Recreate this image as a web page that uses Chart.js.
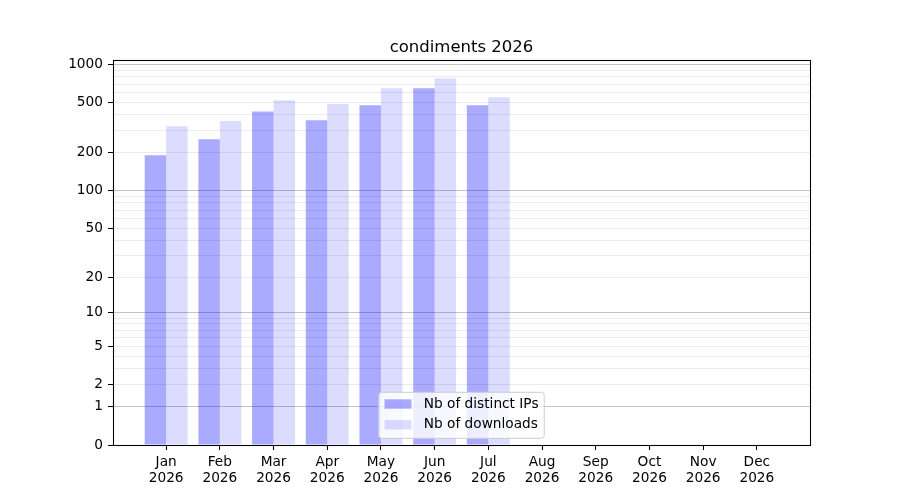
<!DOCTYPE html>
<html>
<head>
<meta charset="utf-8">
<script src="https://cdn.jsdelivr.net/npm/chart.js@4"></script>
<style>
html, body { margin: 0; padding: 0; background: #fff; }
#wrap { width: 900px; height: 500px; }
</style>
</head>
<body>
<div id="wrap"><canvas id="c" width="900" height="500"></canvas></div>
<script>
// ---- data ----
const months = ['Jan', 'Feb', 'Mar', 'Apr', 'May', 'Jun', 'Jul', 'Aug', 'Sep', 'Oct', 'Nov', 'Dec'];
const year = '2026';
const distinctIPs = [192, 257, 426, 363, 477, 650, 477, 0, 0, 0, 0, 0];
const downloads = [325, 357, 522, 488, 650, 779, 552, 0, 0, 0, 0, 0];
const yTickLabels = [0, 1, 2, 5, 10, 20, 50, 100, 200, 500, 1000];
const yGridValues = [0, 1, 2, 3, 4, 5, 6, 7, 8, 9, 10, 20, 30, 40, 50, 60, 70, 80, 90,
                     100, 200, 300, 400, 500, 600, 700, 800, 900, 1000];
const yMajorGrid = [1, 10, 100, 1000];
const titleText = 'condiments 2026';
const seriesLabels = ['Nb of distinct IPs', 'Nb of downloads'];

// ---- custom log10(1+x) scale ----
class Log1pScale extends Chart.LinearScale {
  buildTicks() {
    this.start = this.min;
    this.end = this.max;
    return yGridValues.filter(v => v >= this.min && v <= this.max).map(v => ({ value: v }));
  }
  configure() {
    super.configure();
    this._lo = Math.log10(1 + this.min);
    this._hi = Math.log10(1 + this.max);
  }
  getPixelForValue(value) {
    if (value === null || value === undefined || isNaN(value)) return NaN;
    return this.getPixelForDecimal((Math.log10(1 + value) - this._lo) / (this._hi - this._lo));
  }
  getValueForPixel(pixel) {
    const d = this.getDecimalForPixel(pixel);
    return Math.pow(10, this._lo + d * (this._hi - this._lo)) - 1;
  }
}
Log1pScale.id = 'log1p';
Chart.register(Log1pScale);

const FS = 13.7;
Chart.defaults.font.family = '"DejaVu Sans", sans-serif';
Chart.defaults.font.size = FS;
Chart.defaults.color = '#000';

const FONT = FS + 'px "DejaVu Sans", sans-serif';

const decorPlugin = {
  id: 'decor',
  afterDatasetsDraw(chart) {
    const { ctx, chartArea: a } = chart;
    const l = Math.round(a.left) + 0.5, t = Math.round(a.top) + 0.5;
    const r = Math.round(a.right) + 0.5, b = Math.round(a.bottom) + 0.5;
    ctx.save();
    ctx.strokeStyle = '#000';
    ctx.lineWidth = 1.07;
    ctx.strokeRect(l, t, r - l, b - t);
    ctx.restore();
  },
  afterDraw(chart) {
    const { ctx, chartArea: a } = chart;
    ctx.save();
    // title
    ctx.font = '16.5px "DejaVu Sans", sans-serif';
    ctx.fillStyle = '#000';
    ctx.textAlign = 'center';
    ctx.textBaseline = 'alphabetic';
    ctx.fillText(titleText, (a.left + a.right) / 2, a.top - 8.5);

    // legend
    ctx.font = FONT;
    const ds = chart.data.datasets;
    const tw = Math.max(...ds.map(d => ctx.measureText(d.label).width));
    const pad = 5.7, handleW = 27, gap = 12.3;
    const w = pad + handleW + gap + tw + pad;
    const h = 46;
    const x0 = (a.left + a.right) / 2 - w / 2;
    const y0 = a.bottom - 6.7 - h;
    ctx.beginPath();
    if (ctx.roundRect) ctx.roundRect(x0, y0, w, h, 3); else ctx.rect(x0, y0, w, h);
    ctx.fillStyle = 'rgba(255,255,255,0.8)';
    ctx.fill();
    ctx.strokeStyle = '#cccccc';
    ctx.lineWidth = 1;
    ctx.stroke();
    ds.forEach((d, i) => {
      const cy = y0 + 11.7 + i * 20.8;
      ctx.fillStyle = d.backgroundColor;
      ctx.fillRect(x0 + pad, cy - 4.7, handleW, 9.4);
      ctx.fillStyle = '#000';
      ctx.textAlign = 'left';
      ctx.textBaseline = 'middle';
      ctx.fillText(d.label, x0 + pad + handleW + gap, cy);
    });
    ctx.restore();
  }
};

new Chart(document.getElementById('c'), {
  type: 'bar',
  data: {
    datasets: [
      {
        label: seriesLabels[0],
        data: distinctIPs.map((v, i) => ({ x: i, y: v })),
        backgroundColor: 'rgba(0,0,255,0.333)',
        borderWidth: 0,
        categoryPercentage: 0.8,
        barPercentage: 1.0
      },
      {
        label: seriesLabels[1],
        data: downloads.map((v, i) => ({ x: i, y: v })),
        backgroundColor: 'rgba(0,0,255,0.137)',
        borderWidth: 0,
        categoryPercentage: 0.8,
        barPercentage: 1.0
      }
    ]
  },
  options: {
    responsive: false,
    animation: false,
    devicePixelRatio: 1,
    layout: { padding: { left: 0, right: 90, top: 60, bottom: 0 } },
    plugins: {
      legend: { display: false },
      title: { display: false },
      tooltip: { enabled: false }
    },
    scales: {
      x: {
        type: 'linear',
        min: -0.99,
        max: 11.99,
        offset: false,
        afterBuildTicks: (scale) => { scale.ticks = months.map((m, i) => ({ value: i })); },
        afterFit: (scale) => { scale.height = 55; },
        border: { display: false },
        grid: {
          offset: false,
          drawOnChartArea: false,
          drawTicks: true,
          tickLength: 5,
          tickColor: '#000',
          tickWidth: 1.07
        },
        ticks: {
          autoSkip: false,
          maxRotation: 0,
          padding: 4,
          color: '#000',
          font: { size: FS, lineHeight: 1.2 },
          callback: (value) => [months[value], year]
        }
      },
      y: {
        type: 'log1p',
        min: 0,
        max: 1085,
        afterFit: (scale) => { scale.width = 113; },
        border: { display: false },
        grid: {
          drawOnChartArea: true,
          drawTicks: true,
          tickLength: 5,
          lineWidth: 1,
          color: (ctx) => {
            const v = ctx.tick && ctx.tick.value;
            if (v === 0) return 'rgba(0,0,0,0)';
            return yMajorGrid.includes(v) ? '#c4c4c4' : '#ebebeb';
          },
          tickColor: (ctx) => {
            const v = ctx.tick && ctx.tick.value;
            return yTickLabels.includes(v) ? '#000' : 'rgba(0,0,0,0)';
          },
          tickWidth: 1.07
        },
        ticks: {
          autoSkip: false,
          padding: 5,
          color: '#000',
          font: { size: FS },
          callback: (value) => yTickLabels.includes(value) ? String(value) : ''
        }
      }
    }
  },
  plugins: [decorPlugin]
});
</script>
</body>
</html>
